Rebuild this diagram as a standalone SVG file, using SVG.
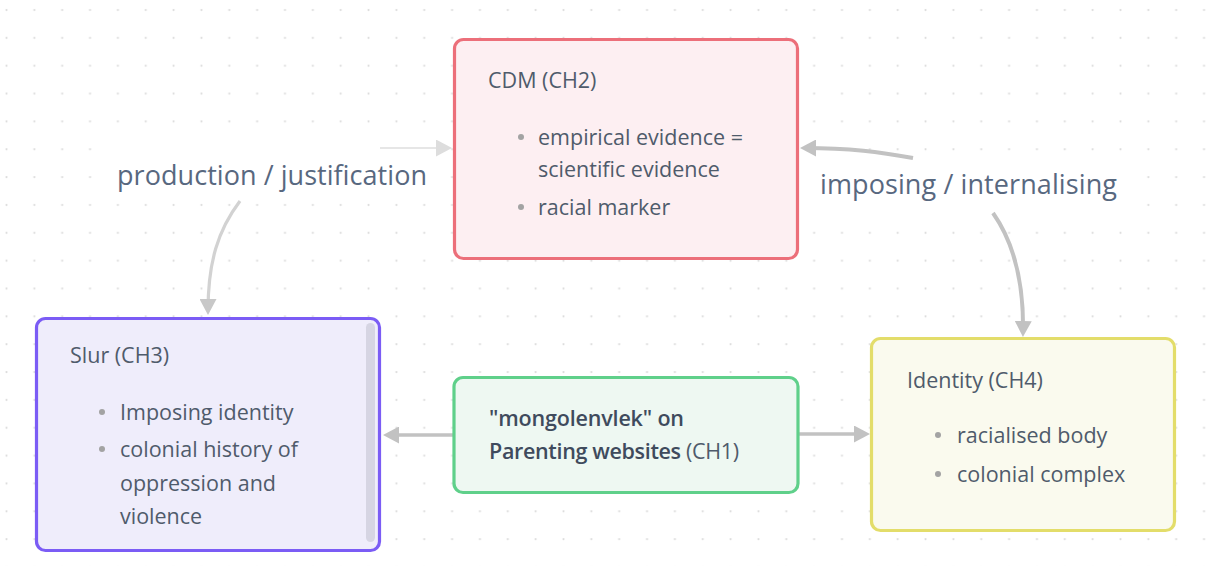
<svg xmlns="http://www.w3.org/2000/svg" width="1209" height="566" viewBox="0 0 1209 566">
  <defs>
    <pattern id="dots" patternUnits="userSpaceOnUse" x="0" y="0" width="27.85" height="27.85">
      <circle cx="6.5" cy="10" r="1.1" fill="#dcdcdc"/>
    </pattern>
    <marker id="arr" markerUnits="userSpaceOnUse" viewBox="0 0 16 17" refX="12" refY="8.5" markerWidth="16" markerHeight="17" orient="auto">
      <path d="M0,0 L16,8.5 L0,17 z" fill="#c2c2c2"/>
    </marker>
    <marker id="arrL" markerUnits="userSpaceOnUse" viewBox="0 0 16 17" refX="12" refY="8.5" markerWidth="16" markerHeight="17" orient="auto">
      <path d="M0,0 L16,8.5 L0,17 z" fill="#c8c8c8"/>
    </marker>
    <marker id="arrF" markerUnits="userSpaceOnUse" viewBox="0 0 16 17" refX="12" refY="8.5" markerWidth="16" markerHeight="17" orient="auto">
      <path d="M0,0 L16,8.5 L0,17 z" fill="#dddddd"/>
    </marker>
  </defs>
  <style>
    text { font-family: "Open Sans", "Noto Sans", "Liberation Sans", sans-serif; }
    .t { font-size: 21.5px; fill: #4f5b6b; }
    .b { font-size: 21.5px; fill: #4f5b6b; }
    .bold { font-weight: 600; fill: #3f4b5d; }
    .lbl { font-size: 27px; fill: #58687f; }
    .dot { fill: #a3a3a3; }
    .node { stroke-width: 3.2; }
    .conn { fill: none; stroke: #c2c2c2; stroke-width: 3.5; }
  </style>
  <rect width="1209" height="566" fill="#ffffff"/>
  <rect width="1209" height="566" fill="url(#dots)"/>

  <!-- label backgrounds -->
  <rect x="108" y="138" width="332" height="60" fill="#ffffff"/>
  <rect x="812" y="162" width="316" height="48" fill="#ffffff"/>

  <g id="connectors">
    <path class="conn" d="M453 435 L387 435" marker-end="url(#arr)"/>
    <path class="conn" d="M798 434 L866 434" marker-end="url(#arr)"/>
    <path class="conn" style="stroke:#e6e6e6;stroke-width:2" d="M380 148 L448 148" marker-end="url(#arrF)"/>
    <path class="conn" style="stroke:#d2d2d2;stroke-width:3.2" d="M240 201 C218 230, 208 262, 208 311" marker-end="url(#arrL)"/>
    <path class="conn" style="stroke-width:4" d="M913 158 C880 152, 850 148, 804 148" marker-end="url(#arr)"/>
    <path class="conn" style="stroke-width:4" d="M993 213 C1012 240, 1024 280, 1023 333" marker-end="url(#arr)"/>
    <text class="lbl" x="117" y="185" textLength="310">production / justification</text>
    <text class="lbl" x="820" y="194" textLength="297">imposing / internalising</text>
  </g>

  <g id="cdm">
    <rect class="node" x="454.5" y="39.5" width="343" height="219" rx="9" fill="#fdeff2" stroke="#ec6f7a"/>
    <text class="t" x="488" y="88">CDM (CH2)</text>
    <circle class="dot" cx="521" cy="137" r="3"/>
    <text class="b" x="538" y="145">empirical evidence =</text>
    <text class="b" x="538" y="177">scientific evidence</text>
    <circle class="dot" cx="521" cy="207" r="3"/>
    <text class="b" x="538" y="215">racial marker</text>
  </g>

  <g id="slur">
    <rect class="node" x="36.5" y="318.5" width="343" height="232" rx="9" fill="#efedfb" stroke="#7b5cf5"/>
    <rect x="366" y="323" width="9" height="219" rx="4.5" fill="#d6d5e3"/>
    <text class="t" x="70" y="363">Slur (CH3)</text>
    <circle class="dot" cx="102" cy="412" r="3"/>
    <text class="b" x="120" y="420">Imposing identity</text>
    <circle class="dot" cx="102" cy="449" r="3"/>
    <text class="b" x="120" y="457">colonial history of</text>
    <text class="b" x="120" y="491">oppression and</text>
    <text class="b" x="120" y="524">violence</text>
  </g>

  <g id="identity">
    <rect class="node" x="871.5" y="338.5" width="303" height="192" rx="9" fill="#fafaee" stroke="#e3dd6a"/>
    <text class="t" x="907" y="388">Identity (CH4)</text>
    <circle class="dot" cx="938" cy="435" r="3"/>
    <text class="b" x="957" y="443">racialised body</text>
    <circle class="dot" cx="938" cy="474" r="3"/>
    <text class="b" x="957" y="482">colonial complex</text>
  </g>

  <g id="parenting">
    <rect class="node" x="454" y="377.5" width="344" height="115" rx="9" fill="#eef8f2" stroke="#5fd08a"/>
    <text class="b bold" x="489" y="426" textLength="195">"mongolenvlek" on</text>
    <text class="b" x="489" y="459" textLength="250"><tspan class="bold">Parenting websites</tspan> (CH1)</text>
  </g>
</svg>
